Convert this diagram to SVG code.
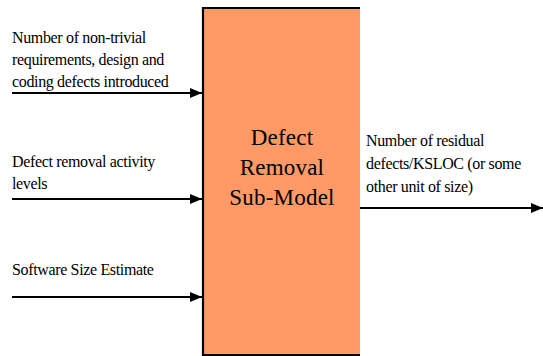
<svg xmlns="http://www.w3.org/2000/svg" width="543" height="356" viewBox="0 0 543 356">
  <style>
    .lbl { font-family: 'Liberation Serif', Tinos, 'DejaVu Serif', serif; font-size: 16px; letter-spacing: -0.35px; fill: #000; }
    .title { font-family: 'Liberation Serif', Tinos, 'DejaVu Serif', serif; font-size: 23px; letter-spacing: 0.2px; fill: #000; text-anchor: middle; }
    .wire { stroke: #000; stroke-width: 2; fill: none; marker-end: url(#head); }
  </style>
  <defs>
    <marker id="head" markerWidth="12" markerHeight="10" refX="12" refY="5" orient="auto" markerUnits="userSpaceOnUse">
      <path d="M0,0 L12,5 L0,10 Z" fill="#000"/>
    </marker>
  </defs>
  <rect width="543" height="356" fill="#fff"/>

  <!-- central process block: border on left, top and bottom only -->
  <g id="submodel">
    <rect x="203" y="8" width="157" height="347" fill="#FF9966"/>
    <path d="M360,8 H203 V355 H360" fill="none" stroke="#000" stroke-width="2.2"/>
    <text class="title" x="282" y="145">Defect</text>
    <text class="title" x="282" y="175">Removal</text>
    <text class="title" x="282" y="205">Sub-Model</text>
  </g>

  <g id="input-defects">
    <text class="lbl" x="12" y="43">Number of non-trivial</text>
    <text class="lbl" x="12" y="65">requirements, design and</text>
    <text class="lbl" x="12" y="87">coding defects introduced</text>
  </g>

  <g id="input-removal">
    <text class="lbl" x="12" y="167">Defect removal activity</text>
    <text class="lbl" x="12" y="189">levels</text>
  </g>

  <g id="input-size">
    <text class="lbl" x="12" y="275">Software Size Estimate</text>
  </g>

  <g id="output-residual">
    <text class="lbl" x="366" y="146">Number of residual</text>
    <text class="lbl" x="366" y="169">defects/KSLOC (or some</text>
    <text class="lbl" x="366" y="192">other unit of size)</text>
  </g>

  <g id="connectors">
    <line class="wire" x1="12" y1="93" x2="202" y2="93"/>
    <line class="wire" x1="12" y1="199" x2="202" y2="199"/>
    <line class="wire" x1="12" y1="297" x2="202" y2="297"/>
    <line class="wire" x1="360" y1="208" x2="543" y2="208"/>
  </g>
</svg>
